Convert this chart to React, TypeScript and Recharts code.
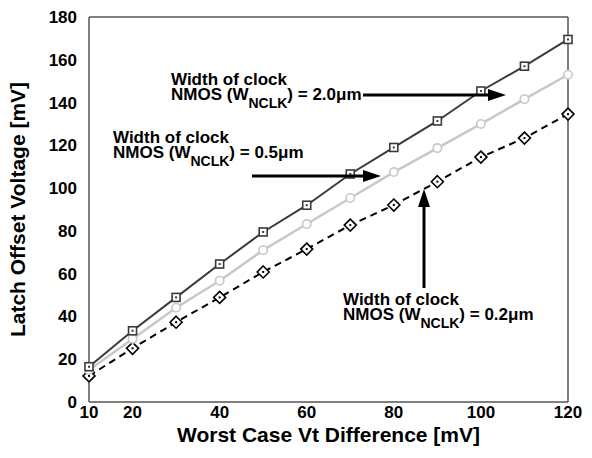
import { LineChart, Line, XAxis, YAxis } from 'recharts';

const vtDiff = [10, 20, 30, 40, 50, 60, 70, 80, 90, 100, 110, 120];
const w20 = [16.5, 33.3, 48.9, 64.5, 79.5, 92, 106.6, 119, 131.4, 145.4, 157, 169.5];
const w05 = [15, 29.5, 44.1, 56.7, 71, 83.2, 95.4, 107.5, 118.7, 130, 141.6, 153];
const w02 = [12.2, 25.1, 37.3, 48.9, 60.8, 71.5, 82.7, 92.1, 103, 114.5, 123.4, 134.6];
const xTicks = [10, 20, 40, 60, 80, 100, 120];
const yTicks = [0, 20, 40, 60, 80, 100, 120, 140, 160, 180];

const data = vtDiff.map((v, i) => ({ vt: v, w20: w20[i], w05: w05[i], w02: w02[i] }));

const FONT = '"Liberation Sans", Arial, sans-serif';
const tickStyle = { fontFamily: FONT, fontWeight: 700, fontSize: 17, fill: '#000' };

const Square = (p: any) => {
    const { cx, cy } = p;
    if (cx == null || cy == null) return null;
    return (
        <g>
            <rect x={cx - 4} y={cy - 4} width={8} height={8} fill="#fff" stroke="#3a3a3a" strokeWidth={1.6} />
            <rect x={cx - 1} y={cy - 1} width={2} height={2} fill="#3a3a3a" />
        </g>
    );
};

const Circ = (p: any) => {
    const { cx, cy } = p;
    if (cx == null || cy == null) return null;
    return <circle cx={cx} cy={cy} r={4.2} fill="#fff" stroke="#c8c8c8" strokeWidth={1.6} />;
};

const Diamond = (p: any) => {
    const { cx, cy } = p;
    if (cx == null || cy == null) return null;
    return (
        <g>
            <polygon
                points={`${cx},${cy - 6} ${cx + 6},${cy} ${cx},${cy + 6} ${cx - 6},${cy}`}
                fill="#fff"
                stroke="#000"
                strokeWidth={1.6}
            />
            <rect x={cx - 1} y={cy - 1} width={2} height={2} fill="#000" />
        </g>
    );
};

// two-line annotation with the W_NCLK subscript
const Note = ({ x, y, value }: { x: number; y: number; value: string }) => (
    <g fontFamily={FONT} fontWeight={700} fill="#000">
        <text x={x} y={y} fontSize={17}>Width of clock</text>
        <text x={x} y={y + 15} fontSize={17}>
            NMOS (W
            <tspan dy={8} fontSize={14}>NCLK</tspan>
            <tspan dy={-8}>) = {value}</tspan>
        </text>
    </g>
);

export default function App() {
    return (
        <div style={{ position: 'absolute', left: 0, top: 0, width: 592, height: 458, background: '#fff' }}>
            <LineChart width={592} height={458} data={data} margin={{ top: 17, right: 24, bottom: 0, left: 0 }}>
                <XAxis
                    xAxisId="main"
                    dataKey="vt"
                    type="number"
                    domain={[10, 120]}
                    ticks={xTicks}
                    height={56}
                    tickLine={false}
                    tickSize={0}
                    tickMargin={4}
                    tick={tickStyle}
                    axisLine={{ stroke: '#555', strokeWidth: 1.5 }}
                    label={{
                        value: 'Worst Case Vt Difference [mV]',
                        position: 'insideBottom',
                        offset: 16,
                        style: { fontFamily: FONT, fontWeight: 700, fontSize: 21, fill: '#000' },
                    }}
                />
                <XAxis xAxisId="xb" dataKey="vt" type="number" domain={[10, 120]} ticks={xTicks} mirror tick={false} tickSize={5} axisLine={false} tickLine={{ stroke: '#555' }} />
                <XAxis xAxisId="xt" orientation="top" dataKey="vt" type="number" domain={[10, 120]} ticks={xTicks} mirror tick={false} tickSize={5} axisLine={{ stroke: '#555', strokeWidth: 1.5 }} tickLine={{ stroke: '#555' }} />
                <YAxis
                    yAxisId="main"
                    type="number"
                    domain={[0, 180]}
                    ticks={yTicks}
                    width={89}
                    tickLine={false}
                    tickSize={0}
                    tickMargin={12}
                    tick={tickStyle}
                    axisLine={{ stroke: '#555', strokeWidth: 1.5 }}
                    label={{
                        value: 'Latch Offset Voltage [mV]',
                        angle: -90,
                        position: 'insideLeft',
                        offset: 18,
                        style: { fontFamily: FONT, fontWeight: 700, fontSize: 21, fill: '#000', textAnchor: 'middle' },
                    }}
                />
                <YAxis yAxisId="yl" type="number" domain={[0, 180]} ticks={yTicks} mirror tick={false} tickSize={5} axisLine={false} tickLine={{ stroke: '#555' }} />
                <YAxis yAxisId="yr" orientation="right" type="number" domain={[0, 180]} ticks={yTicks} mirror tick={false} tickSize={5} axisLine={{ stroke: '#555', strokeWidth: 1.5 }} tickLine={{ stroke: '#555' }} />
                <Line xAxisId="main" yAxisId="main" dataKey="w02" stroke="#000" strokeWidth={2} strokeDasharray="7 5" dot={<Diamond />} isAnimationActive={false} />
                <Line xAxisId="main" yAxisId="main" dataKey="w05" stroke="#c8c8c8" strokeWidth={2.5} dot={<Circ />} isAnimationActive={false} />
                <Line xAxisId="main" yAxisId="main" dataKey="w20" stroke="#3a3a3a" strokeWidth={2} dot={<Square />} isAnimationActive={false} />
            </LineChart>
            <svg width={592} height={458} style={{ position: 'absolute', left: 0, top: 0, pointerEvents: 'none' }}>
                <Note x={171} y={85} value="2.0μm" />
                <line x1={363} y1={95} x2={492} y2={95} stroke="#000" strokeWidth={3} />
                <polygon points="506,95 488,89 488,101" fill="#000" />
                <Note x={113} y={143} value="0.5μm" />
                <line x1={252} y1={176} x2={367} y2={176} stroke="#000" strokeWidth={3} />
                <polygon points="381,176 363,170 363,182" fill="#000" />
                <Note x={343} y={305} value="0.2μm" />
                <line x1={424} y1={288} x2={424} y2={203} stroke="#000" strokeWidth={3} />
                <polygon points="424,189 418,207 430,207" fill="#000" />
            </svg>
        </div>
    );
}
